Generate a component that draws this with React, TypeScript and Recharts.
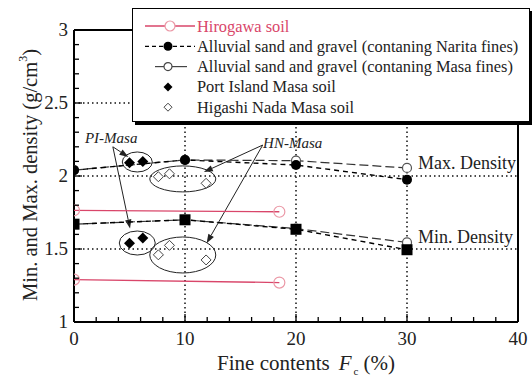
import React from 'react';
import {
  ComposedChart,
  Scatter,
  XAxis,
  YAxis,
  ReferenceLine,
  ReferenceDot,
} from 'recharts';

// ---- data (fine content Fc in %, density in g/cm3) ----
const alluvialFc = [0, 10, 20, 30];
const naritaMax = [2.04, 2.11, 2.075, 1.975];
const naritaMin = [1.67, 1.7, 1.635, 1.495];
const masaMax = [2.04, 2.11, 2.105, 2.055];
const masaMin = [1.67, 1.7, 1.64, 1.545];

const hirogawaFc = [0, 18.5];
const hirogawaMax = [1.765, 1.755];
const hirogawaMin = [1.29, 1.27];

const portIslandFc = [5.0, 6.2];
const portIslandMax = [2.09, 2.1];
const portIslandMin = [1.54, 1.575];

const higashiFc = [7.6, 8.6, 11.9];
const higashiMax = [1.995, 2.015, 1.95];
const higashiMin = [1.46, 1.525, 1.425];

const xTicks = [0, 2, 4, 6, 8, 10, 12, 14, 16, 18, 20, 22, 24, 26, 28, 30, 32, 34, 36, 38, 40];
const yTicks = [1, 1.1, 1.2, 1.3, 1.4, 1.5, 1.6, 1.7, 1.8, 1.9, 2, 2.1, 2.2, 2.3, 2.4, 2.5, 2.6, 2.7, 2.8, 2.9, 3];
const xMajor = [0, 10, 20, 30, 40];
const yMajor = [1, 1.5, 2, 2.5, 3];
const gridX = [10, 20, 30];
const gridY = [1.5, 2, 2.5];

const legendLabels = [
  'Hirogawa soil',
  'Alluvial sand and gravel (contaning Narita fines)',
  'Alluvial sand and gravel (contaning Masa fines)',
  'Port Island Masa soil',
  'Higashi Nada Masa soil',
];

const zip = (xs: number[], ys: number[]) => xs.map((x, i) => ({ x, y: ys[i] }));

const FONT = 'Liberation Serif';
const fontStyle = { fontFamily: FONT };
const RED = '#d9466a';
const PINK = '#eb98a6';

const isMajorX = (v: number) => xMajor.includes(v);
const isMajorY = (v: number) => yMajor.some((m) => Math.abs(m - v) < 1e-6);

// ---- markers ----
const FilledCircle = (p: any) => <circle cx={p.cx} cy={p.cy} r={5} fill="#000" />;
const OpenCircleGray = (p: any) => (
  <circle cx={p.cx} cy={p.cy} r={4.5} fill="#fff" stroke="#555" strokeWidth={1.2} />
);
const OpenCirclePink = (p: any) => (
  <circle cx={p.cx} cy={p.cy} r={5.5} fill="none" stroke={PINK} strokeWidth={1.2} />
);
const FilledSquare = (p: any) => (
  <rect x={p.cx - 5.5} y={p.cy - 5.5} width={11} height={11} fill="#000" />
);
const diamondPath = (cx: number, cy: number, r: number) =>
  `M${cx},${cy - r}L${cx + r},${cy}L${cx},${cy + r}L${cx - r},${cy}Z`;
const FilledDiamond = (p: any) => <path d={diamondPath(p.cx, p.cy, 5.5)} fill="#000" />;
const OpenDiamond = (p: any) => (
  <path d={diamondPath(p.cx, p.cy, 5)} fill="#fff" stroke="#444" strokeWidth={1} />
);

// ---- axis ticks drawn inward ----
const BottomTick = (p: any) => {
  const v = p.payload.value;
  const major = isMajorX(v);
  return (
    <g>
      <line x1={p.x} y1={p.y} x2={p.x} y2={p.y - (major ? 8 : 5)} stroke="#000" strokeWidth={1.3} />
      {major && (
        <text x={p.x} y={p.y + 23} textAnchor="middle" style={fontStyle} fontSize={19} fill="#222">
          {v}
        </text>
      )}
    </g>
  );
};
const TopTick = (p: any) => {
  const major = isMajorX(p.payload.value);
  return <line x1={p.x} y1={p.y} x2={p.x} y2={p.y + (major ? 8 : 5)} stroke="#000" strokeWidth={1.3} />;
};
const LeftTick = (p: any) => {
  const v = p.payload.value;
  const major = isMajorY(v);
  return (
    <g>
      <line x1={p.x} y1={p.y} x2={p.x + (major ? 8 : 5)} y2={p.y} stroke="#000" strokeWidth={1.3} />
      {major && (
        <text x={p.x - 6} y={p.y + 6} textAnchor="end" style={fontStyle} fontSize={19} fill="#222">
          {String(v)}
        </text>
      )}
    </g>
  );
};
const RightTick = (p: any) => {
  const major = isMajorY(p.payload.value);
  return <line x1={p.x} y1={p.y} x2={p.x - (major ? 8 : 5)} y2={p.y} stroke="#000" strokeWidth={1.3} />;
};

const XTitle = (p: any) => {
  const vb = p.viewBox;
  return (
    <text x={vb.x + vb.width / 2 + 10} y={370} textAnchor="middle" style={fontStyle} fontSize={21} fill="#222">
      Fine contents
      <tspan fontStyle="italic" dx={9}>F</tspan>
      <tspan fontSize={11} dx={2} dy={5}>c</tspan>
      <tspan dx={5} dy={-5}>(%)</tspan>
    </text>
  );
};
const YTitle = (p: any) => {
  const vb = p.viewBox;
  const cx = 30;
  const cy = vb.y + vb.height / 2 - 1;
  return (
    <text
      x={cx}
      y={cy}
      transform={`rotate(-90 ${cx} ${cy})`}
      textAnchor="middle"
      dominantBaseline="central"
      style={fontStyle}
      fontSize={20.5}
      fill="#222"
    >
      Min. and Max. density (g/cm
      <tspan fontSize={12} dy={-7}>3</tspan>
      <tspan dy={7}>)</tspan>
    </text>
  );
};

// ---- annotations ----
const ellipseShape = (rx: number, ry: number) => (p: any) => (
  <ellipse cx={p.cx} cy={p.cy} rx={rx} ry={ry} fill="none" stroke="#222" strokeWidth={1} />
);
const textShape = (label: string, italic: boolean, size: number, anchor: 'start' | 'middle') => (p: any) => (
  <text
    x={p.cx}
    y={p.cy}
    textAnchor={anchor}
    dominantBaseline="central"
    style={fontStyle}
    fontStyle={italic ? 'italic' : 'normal'}
    fontSize={size}
    fill="#222"
  >
    {label}
  </text>
);
const ArrowShape = (p: any) => {
  const { x1, y1, x2, y2 } = p;
  const ang = Math.atan2(y2 - y1, x2 - x1);
  const len = 9;
  const w = 3.2;
  const bx = x2 - len * Math.cos(ang);
  const by = y2 - len * Math.sin(ang);
  const nx = -Math.sin(ang) * w;
  const ny = Math.cos(ang) * w;
  return (
    <g>
      <line x1={x1} y1={y1} x2={bx} y2={by} stroke="#222" strokeWidth={1} />
      <polygon points={`${x2},${y2} ${bx + nx},${by + ny} ${bx - nx},${by - ny}`} fill="#222" />
    </g>
  );
};

const arrows = [
  [{ x: 3.5, y: 2.2 }, { x: 4.9, y: 2.13 }],
  [{ x: 3.5, y: 2.2 }, { x: 5.05, y: 1.64 }],
  [{ x: 17.0, y: 2.212 }, { x: 11.7, y: 2.027 }],
  [{ x: 17.0, y: 2.212 }, { x: 11.95, y: 1.54 }],
];

const ellipses = [
  { x: 5.7, y: 2.096, rx: 15, ry: 10 },
  { x: 9.8, y: 1.98, rx: 33, ry: 13 },
  { x: 5.7, y: 1.541, rx: 18, ry: 12 },
  { x: 9.8, y: 1.459, rx: 33, ry: 18 },
];

// ---- legend ----
const legendSymbols = [
  (
    <g>
      <line x1={2} y1={0} x2={52} y2={0} stroke={RED} strokeWidth={1.3} />
      <circle cx={27} cy={0} r={5} fill="#fff" stroke={PINK} strokeWidth={1.2} />
    </g>
  ),
  (
    <g>
      <line x1={2} y1={0} x2={52} y2={0} stroke="#000" strokeWidth={1.3} strokeDasharray="4 3" />
      <circle cx={25} cy={0} r={4.5} fill="#000" />
    </g>
  ),
  (
    <g>
      <line x1={12} y1={0} x2={44} y2={0} stroke="#444" strokeWidth={1.2} />
      <circle cx={25} cy={0} r={4} fill="#fff" stroke="#444" strokeWidth={1.2} />
    </g>
  ),
  <path d={diamondPath(25, 0, 4.5)} fill="#000" />,
  <path d={diamondPath(25, 0, 4)} fill="#fff" stroke="#444" strokeWidth={1} />,
];

const LegendBox = () => (
  <div
    style={{
      position: 'absolute',
      left: 132,
      top: 8,
      width: 396,
      height: 112,
      background: '#fff',
      border: '1.2px solid #000',
      boxShadow: '3px 3px 0 #000',
    }}
  >
    <svg width={396} height={112} style={{ display: 'block' }}>
      {legendLabels.map((label, i) => {
        const y = 17 + i * 20.3;
        return (
          <g key={label}>
            <g transform={`translate(10 ${y})`}>{legendSymbols[i]}</g>
            <text
              x={64}
              y={y}
              dominantBaseline="central"
              style={fontStyle}
              fontSize={16.4}
              fill={i === 0 ? RED : '#222'}
            >
              {label}
            </text>
          </g>
        );
      })}
    </svg>
  </div>
);

export default function App() {
  return (
    <div style={{ position: 'absolute', left: 0, top: 0, width: 532, height: 381, background: '#fff', fontFamily: FONT }}>
      <ComposedChart
        width={532}
        height={381}
        margin={{ top: 29, right: 13, bottom: 58, left: 73 }}
        style={fontStyle}
      >
        <XAxis
          xAxisId="b"
          type="number"
          dataKey="x"
          domain={[0, 40]}
          ticks={xTicks}
          interval={0}
          height={1}
          tickSize={0}
          tickMargin={0}
          tick={BottomTick}
          axisLine={{ stroke: '#000', strokeWidth: 2 }}
          tickLine={false}
          allowDataOverflow
          label={<XTitle />}
        />
        <XAxis
          xAxisId="t"
          orientation="top"
          type="number"
          dataKey="x"
          domain={[0, 40]}
          ticks={xTicks}
          interval={0}
          height={1}
          tickSize={0}
          tickMargin={0}
          tick={TopTick}
          axisLine={{ stroke: '#000', strokeWidth: 2 }}
          tickLine={false}
        />
        <YAxis
          yAxisId="l"
          type="number"
          dataKey="y"
          domain={[1, 3]}
          ticks={yTicks}
          interval={0}
          width={1}
          tickSize={0}
          tickMargin={0}
          tick={LeftTick}
          axisLine={{ stroke: '#000', strokeWidth: 2 }}
          tickLine={false}
          allowDataOverflow
          label={<YTitle />}
        />
        <YAxis
          yAxisId="r"
          orientation="right"
          type="number"
          dataKey="y"
          domain={[1, 3]}
          ticks={yTicks}
          interval={0}
          width={1}
          tickSize={0}
          tickMargin={0}
          tick={RightTick}
          axisLine={{ stroke: '#000', strokeWidth: 2 }}
          tickLine={false}
        />

        {gridX.map((v) => (
          <ReferenceLine key={`gx${v}`} xAxisId="b" yAxisId="l" x={v} stroke="#111" strokeWidth={1.5} strokeDasharray="1.5 3" />
        ))}
        {gridY.map((v) => (
          <ReferenceLine key={`gy${v}`} xAxisId="b" yAxisId="l" y={v} stroke="#111" strokeWidth={1.5} strokeDasharray="1.5 3" />
        ))}

        {ellipses.map((e, i) => (
          <ReferenceDot key={`el${i}`} xAxisId="b" yAxisId="l" x={e.x} y={e.y} r={1} shape={ellipseShape(e.rx, e.ry)} />
        ))}
        {arrows.map((seg, i) => (
          <ReferenceLine key={`ar${i}`} xAxisId="b" yAxisId="l" segment={seg} shape={ArrowShape} />
        ))}
        <ReferenceDot xAxisId="b" yAxisId="l" x={3.35} y={2.262} r={1} shape={textShape('PI-Masa', true, 15, 'middle')} />
        <ReferenceDot xAxisId="b" yAxisId="l" x={19.7} y={2.226} r={1} shape={textShape('HN-Masa', true, 15, 'middle')} />
        <ReferenceDot xAxisId="b" yAxisId="l" x={31.0} y={2.089} r={1} shape={textShape('Max. Density', false, 18, 'start')} />
        <ReferenceDot xAxisId="b" yAxisId="l" x={31.0} y={1.582} r={1} shape={textShape('Min. Density', false, 18, 'start')} />

        <Scatter xAxisId="b" yAxisId="l" data={zip(hirogawaFc, hirogawaMax)} line={{ stroke: RED, strokeWidth: 1.3 }} lineType="joint" shape={OpenCirclePink} isAnimationActive={false} />
        <Scatter xAxisId="b" yAxisId="l" data={zip(hirogawaFc, hirogawaMin)} line={{ stroke: RED, strokeWidth: 1.3 }} lineType="joint" shape={OpenCirclePink} isAnimationActive={false} />

        <Scatter xAxisId="b" yAxisId="l" data={zip(alluvialFc, masaMax)} line={{ stroke: '#333', strokeWidth: 1.2, strokeDasharray: '9 4' }} lineType="joint" shape={OpenCircleGray} isAnimationActive={false} />
        <Scatter xAxisId="b" yAxisId="l" data={zip(alluvialFc, masaMin)} line={{ stroke: '#333', strokeWidth: 1.2, strokeDasharray: '9 4' }} lineType="joint" shape={OpenCircleGray} isAnimationActive={false} />

        <Scatter xAxisId="b" yAxisId="l" data={zip(alluvialFc, naritaMax)} line={{ stroke: '#000', strokeWidth: 1.4, strokeDasharray: '5 4' }} lineType="joint" shape={FilledCircle} isAnimationActive={false} />
        <Scatter xAxisId="b" yAxisId="l" data={zip(alluvialFc, naritaMin)} line={{ stroke: '#000', strokeWidth: 1.4, strokeDasharray: '5 4' }} lineType="joint" shape={FilledSquare} isAnimationActive={false} />

        <Scatter xAxisId="b" yAxisId="l" data={zip(portIslandFc, portIslandMax)} shape={FilledDiamond} isAnimationActive={false} />
        <Scatter xAxisId="b" yAxisId="l" data={zip(portIslandFc, portIslandMin)} shape={FilledDiamond} isAnimationActive={false} />
        <Scatter xAxisId="b" yAxisId="l" data={zip(higashiFc, higashiMax)} shape={OpenDiamond} isAnimationActive={false} />
        <Scatter xAxisId="b" yAxisId="l" data={zip(higashiFc, higashiMin)} shape={OpenDiamond} isAnimationActive={false} />
      </ComposedChart>
      <LegendBox />
    </div>
  );
}
